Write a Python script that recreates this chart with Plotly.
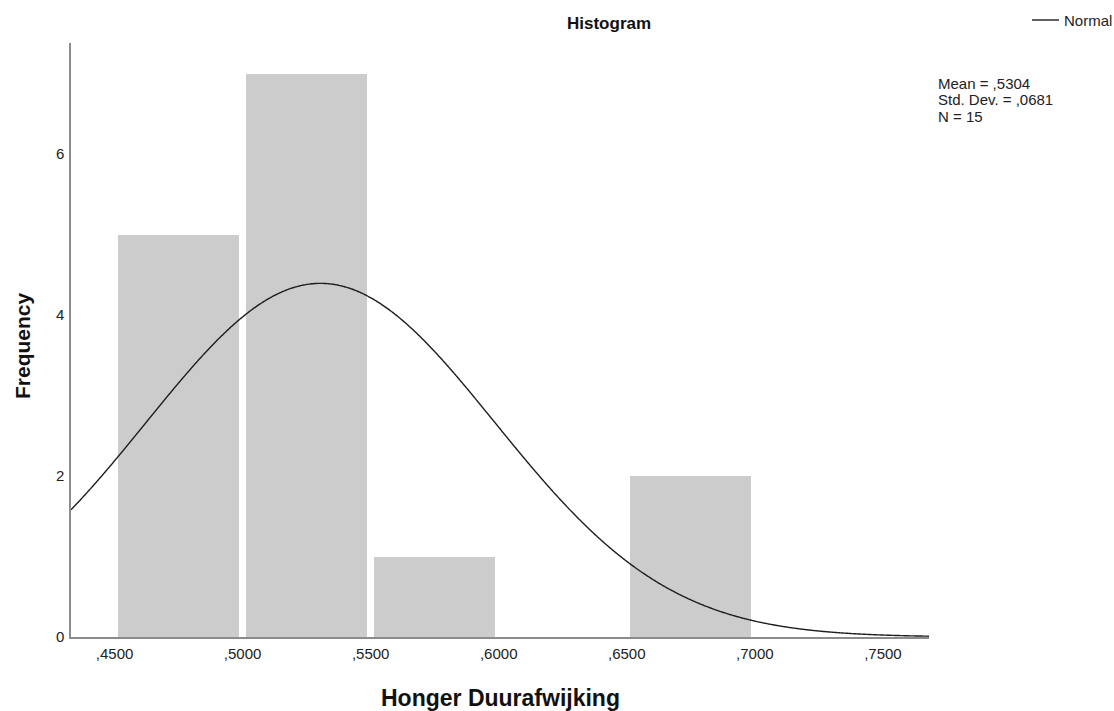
import numpy as np
import plotly.graph_objects as go

# Histogram bins (lower edges) and observed counts
bin_starts = [0.45, 0.50, 0.55, 0.60, 0.65]
counts = [5, 7, 1, 0, 2]
bin_width = 0.05

# Summary statistics shown next to the plot
mean = 0.5304
std_dev = 0.0681
n_obs = 15

x_tick_vals = [0.45, 0.50, 0.55, 0.60, 0.65, 0.70, 0.75]
x_tick_text = [",4500", ",5000", ",5500", ",6000", ",6500", ",7000", ",7500"]
y_tick_vals = [0, 2, 4, 6]

x_range = [0.433, 0.768]
y_range = [0, 7.38]

FONT = "Liberation Sans, Arial, sans-serif"

centers = [s + bin_width / 2 for s in bin_starts]

# Normal curve scaled to the histogram: N * bin width * pdf
xs = np.linspace(x_range[0], x_range[1], 600)
ys = n_obs * bin_width * np.exp(-0.5 * ((xs - mean) / std_dev) ** 2) / (std_dev * np.sqrt(2 * np.pi))

fig = go.Figure()
fig.add_trace(go.Bar(
    x=centers, y=counts, width=bin_width * 0.945,
    marker=dict(color="#cccccc", line=dict(width=0)),
    showlegend=False, hoverinfo="skip",
))
fig.add_trace(go.Scatter(
    x=xs, y=ys, mode="lines", name="Normal",
    line=dict(color="#1e1e1e", width=1.4, shape="spline"), showlegend=False,
))

L, R, T, B = 71, 185, 43, 74
W, H = 1114, 711
pw, ph = W - L - R, H - T - B


def px_x(px):
    return (px - L) / pw


def px_y(py):
    return (H - B - py) / ph


tick_font = dict(family=FONT, size=15, color="#222222")

fig.update_layout(
    width=W, height=H,
    margin=dict(l=L, r=R, t=T, b=B, pad=0),
    paper_bgcolor="white", plot_bgcolor="white",
    font=dict(family=FONT, size=15, color="#222222"),
    bargap=0,
    xaxis=dict(
        range=x_range, tickvals=x_tick_vals, ticktext=x_tick_text,
        showgrid=False, zeroline=False, showline=True,
        linecolor="#8c8c8c", linewidth=1.5, ticks="", ticklen=0,
        tickfont=tick_font, ticklabelstandoff=2,
    ),
    yaxis=dict(
        range=y_range, tickvals=y_tick_vals,
        showgrid=False, zeroline=False, showline=True,
        linecolor="#8c8c8c", linewidth=1.5, ticks="", ticklen=0,
        tickfont=tick_font, ticklabelstandoff=2,
    ),
)

stats_lines = [
    f"Mean = ,{round(mean * 10000):04d}",
    f"Std. Dev. = ,{round(std_dev * 10000):04d}",
    f"N = {n_obs}",
]

annotations = [
    dict(text="<b>Histogram</b>", x=px_x(609), y=px_y(24), xanchor="center", yanchor="middle",
         font=dict(family=FONT, size=17, color="#111111")),
    dict(text="<b>Honger Duurafwijking</b>", x=px_x(500), y=px_y(698), xanchor="center", yanchor="middle",
         font=dict(family=FONT, size=23, color="#111111")),
    dict(text="<b>Frequency</b>", x=px_x(22), y=px_y(346), xanchor="center", yanchor="middle",
         textangle=-90, font=dict(family=FONT, size=21, color="#111111")),
    dict(text="Normal", x=px_x(1062), y=px_y(20), xanchor="left", yanchor="middle",
         font=dict(family=FONT, size=15, color="#222222")),
]
for i, line in enumerate(stats_lines):
    annotations.append(dict(text=line, x=px_x(936), y=px_y(83 + 16.5 * i), xanchor="left", yanchor="middle",
                            font=dict(family=FONT, size=15, color="#222222")))
for a in annotations:
    a.update(xref="paper", yref="paper", showarrow=False)
fig.update_layout(annotations=annotations)

fig.add_shape(type="line", xref="paper", yref="paper",
              x0=px_x(1032), x1=px_x(1059), y0=px_y(20), y1=px_y(20),
              line=dict(color="#1e1e1e", width=1.4))

fig.write_html("out.html")
